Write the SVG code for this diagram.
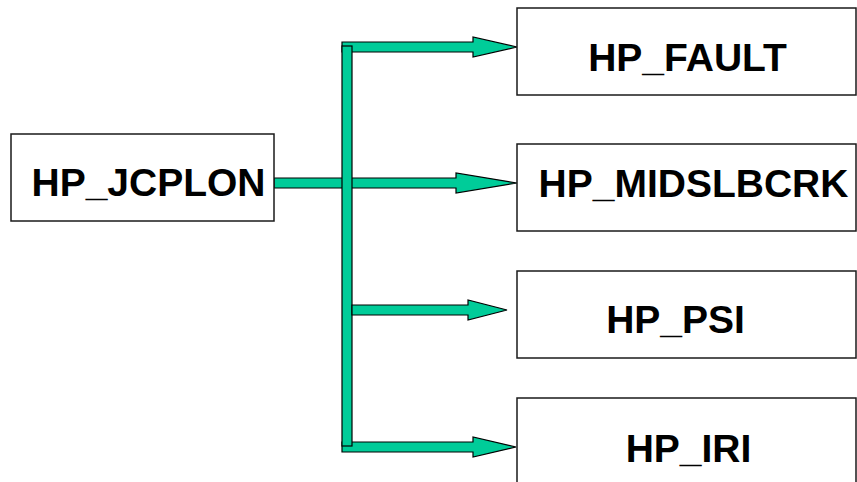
<svg xmlns="http://www.w3.org/2000/svg" width="857" height="482" viewBox="0 0 857 482">
<style>
.box{fill:#fff;stroke:#1a1a1a;stroke-width:1.5}
.lbl{font-family:"Liberation Sans",Arial,sans-serif;font-weight:bold;font-size:39px;fill:#000;text-anchor:middle}
.arr{fill:#00CC99;stroke:#000;stroke-width:1.2;stroke-linejoin:miter}
</style>
<rect width="857" height="482" fill="#fff"/>
<g id="connectors">
<polygon class="arr" points="342,42 473,42 473,37 517,47 473,57 473,52 342,52"/>
<polygon class="arr" points="342,442 473,442 473,437 516,447 473,457 473,452 342,452"/>
<polygon class="arr" points="274,178 456,178 456,173 517,183 456,193 456,188 274,188"/>
<rect class="arr" x="342" y="46" width="10" height="400"/>
<polygon class="arr" points="352,305 468,305 468,300 507,310 468,320 468,315 352,315"/>
</g>
<g id="n_jcplon">
<rect class="box" x="11" y="134" width="263" height="87"/>
<text class="lbl" x="148.5" y="196">HP_JCPLON</text>
</g>
<g id="n_fault">
<rect class="box" x="517" y="8" width="339" height="87"/>
<text class="lbl" x="687.5" y="71">HP_FAULT</text>
</g>
<g id="n_midslbcrk">
<rect class="box" x="517" y="144" width="339" height="87"/>
<text class="lbl" x="693.5" y="197">HP_MIDSLBCRK</text>
</g>
<g id="n_psi">
<rect class="box" x="517" y="271" width="339" height="87"/>
<text class="lbl" x="675.5" y="333">HP_PSI</text>
</g>
<g id="n_iri">
<rect class="box" x="517" y="398" width="339" height="100"/>
<text class="lbl" x="688.5" y="462">HP_IRI</text>
</g>
</svg>
